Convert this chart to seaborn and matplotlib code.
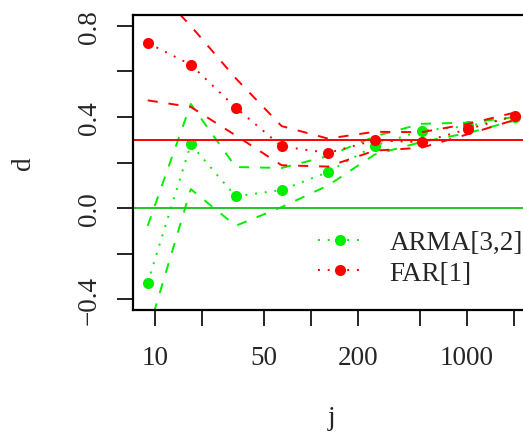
import numpy as np
import pandas as pd
import matplotlib
matplotlib.use("Agg")
import matplotlib.pyplot as plt
from matplotlib.lines import Line2D
import seaborn as sns

# ---- data ----
j = [9, 17, 33, 65, 129, 257, 513, 1025, 2049]
arma_est = [-0.328, 0.280, 0.051, 0.079, 0.158, 0.274, 0.340, 0.36, 0.40]
arma_upper = [-0.078, 0.457, 0.180, 0.176, 0.228, 0.315, 0.370, 0.375, 0.40]
arma_lower = [-0.55, 0.083, -0.078, 0.004, 0.099, 0.235, 0.290, 0.330, 0.385]
far_est = [0.725, 0.630, 0.441, 0.271, 0.242, 0.298, 0.289, 0.347, 0.406]
far_upper = [1.00, 0.80, 0.57, 0.36, 0.305, 0.335, 0.333, 0.37, 0.42]
far_lower = [0.473, 0.444, 0.319, 0.188, 0.182, 0.252, 0.265, 0.325, 0.388]
arma_true = 0.0
far_true = 0.3
series_names = ["ARMA[3,2]", "FAR[1]"]
xtick_vals = [10, 20, 50, 100, 200, 500, 1000, 2000]
xtick_labels = ["10", "", "50", "", "200", "", "1000", ""]
ytick_vals = [-0.4, -0.2, 0.0, 0.2, 0.4, 0.6, 0.8]
ytick_labels = ["\u22120.4", "", "0.0", "", "0.4", "", "0.8"]

GREEN = "#00EE00"
GREEN_H = "#22C522"
RED = "#FF0000"

sns.set_style("ticks")
plt.rcParams["font.family"] = ["Liberation Serif", "DejaVu Serif"]
FS = 19.5

fig = plt.figure(figsize=(5.23, 4.39), dpi=100)
ax = fig.add_axes([133 / 523, 1 - 311 / 439, 397 / 523, 295 / 439])

lw = 1.4
dash = (0, (5.2, 5.6))
dot = (0, (1.0, 4.0))

def draw(est, up, lo, col):
    sns.lineplot(x=j, y=up, ax=ax, color=col, lw=lw, linestyle=dash, sort=False)
    sns.lineplot(x=j, y=lo, ax=ax, color=col, lw=lw, linestyle=dash, sort=False)
    sns.lineplot(x=j, y=est, ax=ax, color=col, lw=lw, linestyle=dot, sort=False,
                 marker="o", markersize=8.0, markeredgewidth=0,
                 markerfacecolor=col)

draw(arma_est, arma_upper, arma_lower, GREEN)
draw(far_est, far_upper, far_lower, RED)

ax.axhline(far_true, color=RED, lw=lw)
ax.axhline(arma_true, color=GREEN_H, lw=lw)

ax.set_xscale("log")
lj = np.log10(j)
r = lj.max() - lj.min()
ax.set_xlim(10 ** (lj.min() - 0.04 * r), 10 ** (lj.max() + 0.04 * r))
ax.set_ylim(-0.4 - 0.048, 0.8 + 0.048)

ax.set_xticks(xtick_vals)
ax.set_xticklabels(xtick_labels, fontsize=FS)
ax.xaxis.set_minor_locator(matplotlib.ticker.NullLocator())
ax.set_yticks(ytick_vals)
ax.set_yticklabels(ytick_labels, fontsize=FS, rotation=90, va="center")

ax.tick_params(axis="both", which="major", length=11.5, width=1.2, color="black")
ax.tick_params(axis="x", pad=14)
ax.tick_params(axis="y", pad=11)
for s in ["left", "bottom", "top"]:
    ax.spines[s].set_visible(True)
    ax.spines[s].set_linewidth(1.6)
    ax.spines[s].set_color("black")
ax.spines["right"].set_visible(False)

ax.set_xlabel("j", fontsize=FS, labelpad=25)
ax.set_ylabel("d", fontsize=FS, labelpad=29)

handles = [
    Line2D([], [], color=GREEN, lw=lw, linestyle=dot, marker="o",
           markersize=8.0, markeredgewidth=0),
    Line2D([], [], color=RED, lw=lw, linestyle=dot, marker="o",
           markersize=8.0, markeredgewidth=0),
]
ax.legend(handles, series_names, loc="upper left",
          bbox_to_anchor=(318 / 523, 1 - 231 / 439),
          bbox_transform=fig.transFigure, frameon=False, fontsize=FS,
          borderpad=0, borderaxespad=0, handlelength=1.6,
          handletextpad=1.05, labelspacing=0.22, numpoints=1)

fig.savefig("out.png", dpi=100)
